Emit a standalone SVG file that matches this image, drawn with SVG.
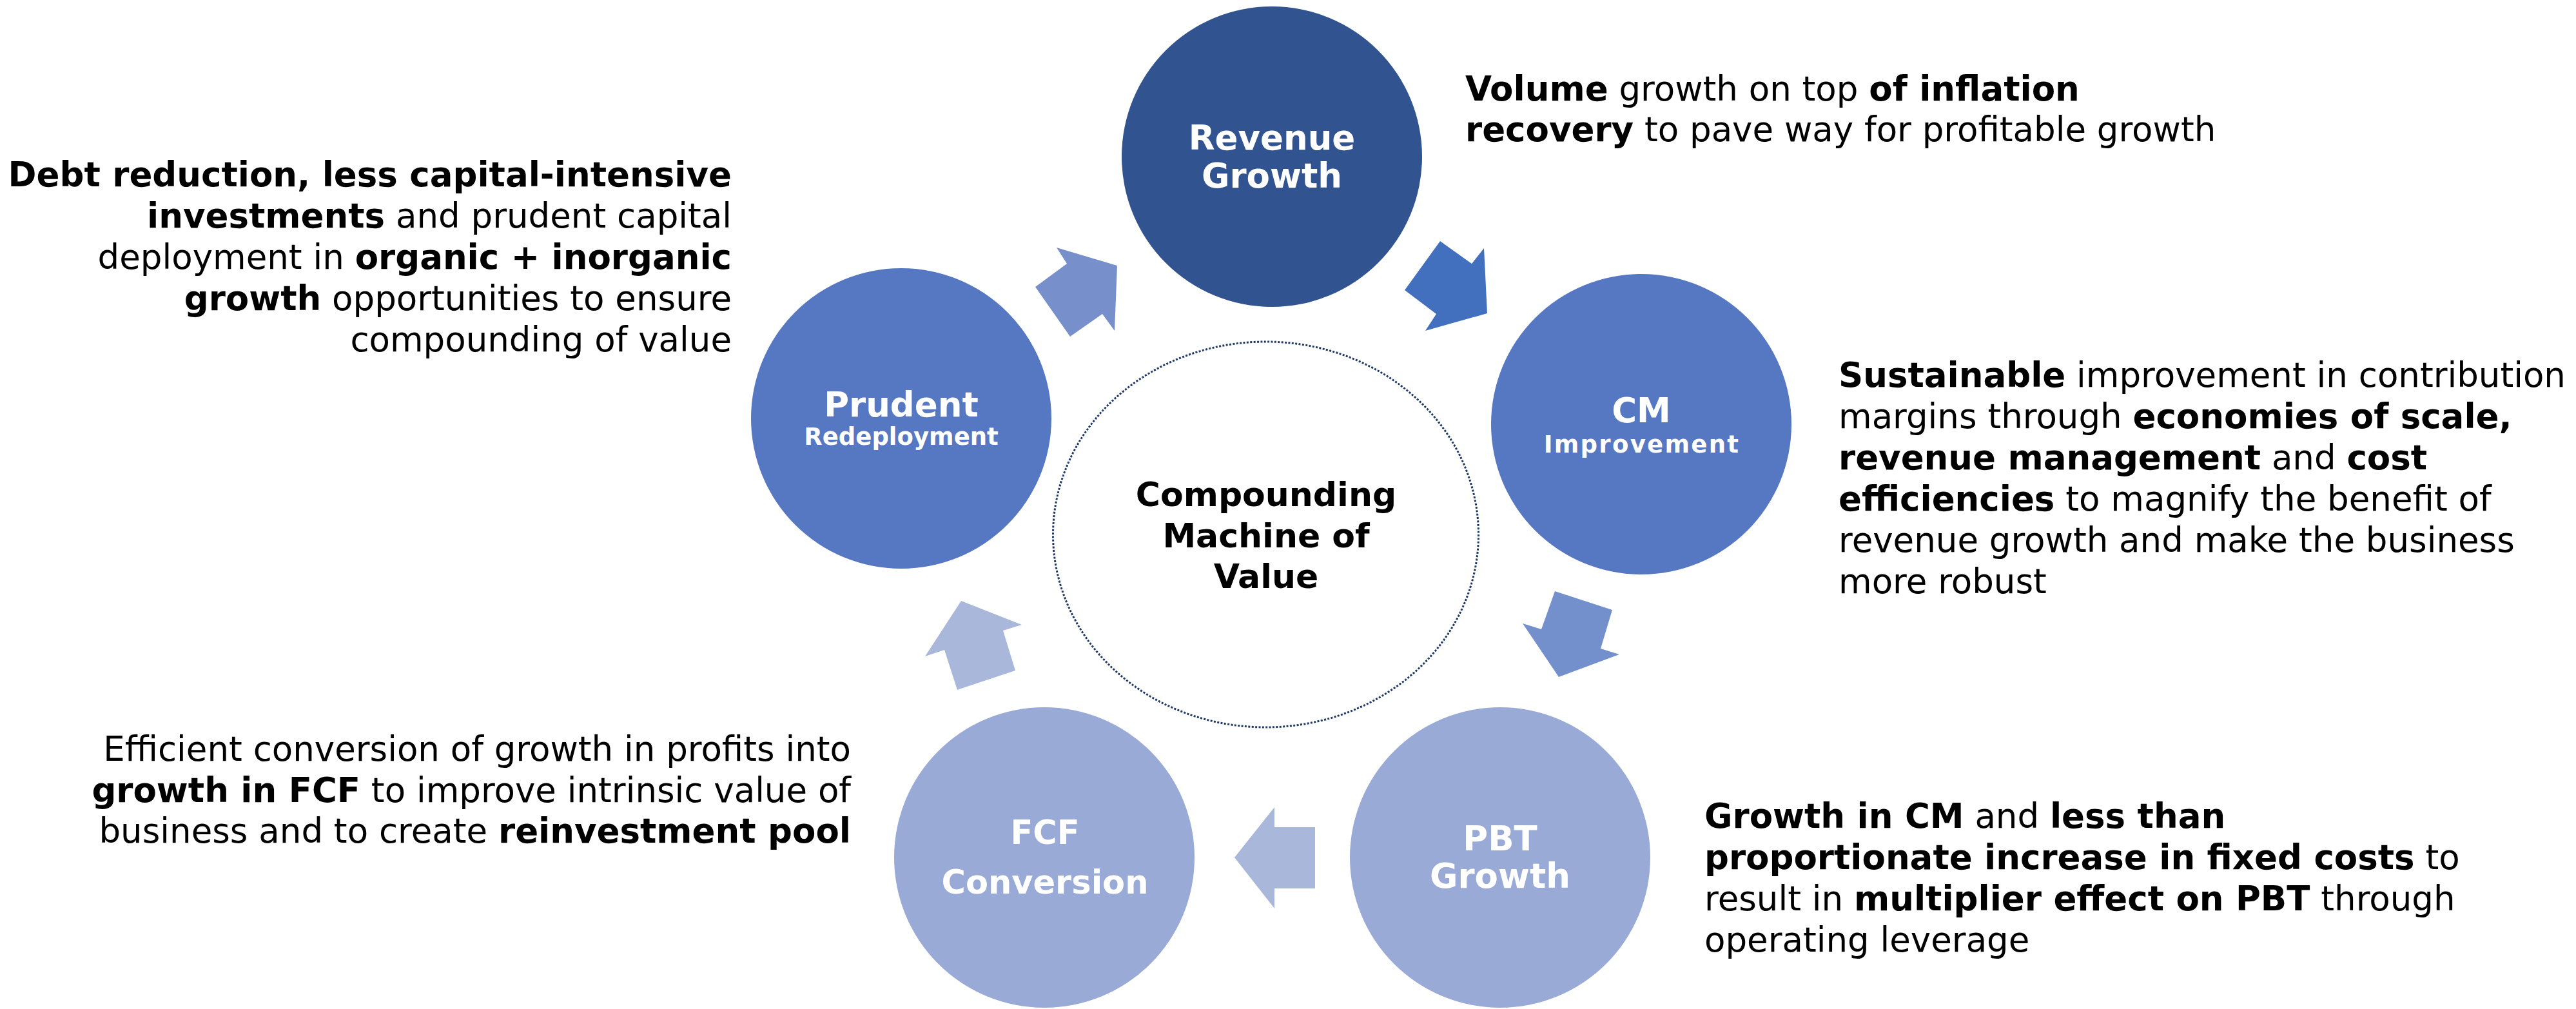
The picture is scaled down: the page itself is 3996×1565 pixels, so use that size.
<svg xmlns="http://www.w3.org/2000/svg" width="3996" height="1565" viewBox="0 0 3996 1565">
<style>
.lbl{font-family:"DejaVu Sans",Verdana,sans-serif;font-weight:bold;fill:#FFFFFF;text-anchor:middle}
.big{font-size:53px}
.mid{font-size:51px}
.sub{font-size:37px}
.ctr{font-family:"DejaVu Sans",Verdana,sans-serif;font-weight:bold;font-size:52px;fill:#000000;text-anchor:middle}
.desc{font-family:"DejaVu Sans",Verdana,sans-serif;font-size:53px;fill:#000000}
.b{font-weight:bold}
.end{text-anchor:end}
</style>
<rect x="0" y="0" width="3996" height="1565" fill="#FFFFFF"/>
<g id="connectors">
<polygon fill="#7790CB" points="1639,384 1733,412 1729,513 1710,487 1660,522 1606,445 1655,409"/>
<polygon fill="#4270BE" points="2234,374 2283,409 2302,385 2307,486 2211,513 2228,487 2179,450"/>
<polygon fill="#7490CC" points="2412,917 2501,946 2483,1006 2512,1015 2418,1050 2362,967 2391,976"/>
<polygon fill="#A9B7DB" points="1915,1330 1977,1252 1977,1283 2040,1283 2040,1378 1977,1378 1977,1409"/>
<polygon fill="#A9B7DB" points="1491,932 1585,969 1556,978 1575,1040 1485,1070 1465,1008 1435,1018"/>
</g>
<g id="center">
<ellipse cx="1963.5" cy="829" rx="330" ry="299" fill="#FFFFFF" stroke="#1F3864" stroke-width="3" stroke-dasharray="3 2.4"/>
<text class="ctr" x="1964" y="785">Compounding</text>
<text class="ctr" x="1964" y="849">Machine of</text>
<text class="ctr" x="1964" y="912">Value</text>
</g>
<g id="revenue-growth">
<circle cx="1973" cy="243" r="233" fill="#31538F"/>
<text class="lbl big" x="1973" y="232">Revenue</text>
<text class="lbl big" x="1973" y="291">Growth</text>
</g>
<g id="cm-improvement">
<circle cx="2546" cy="658" r="233" fill="#5677C1"/>
<text class="lbl big" x="2546" y="655">CM</text>
<text class="lbl sub" x="2547" y="702" letter-spacing="2.3">Improvement</text>
</g>
<g id="pbt-growth">
<circle cx="2327" cy="1330" r="233" fill="#99AAD6"/>
<text class="lbl big" x="2327" y="1319">PBT</text>
<text class="lbl big" x="2327" y="1377">Growth</text>
</g>
<g id="fcf-conversion">
<circle cx="1620" cy="1330" r="233" fill="#99AAD6"/>
<text class="lbl mid" x="1621" y="1309">FCF</text>
<text class="lbl mid" x="1621" y="1386">Conversion</text>
</g>
<g id="prudent-redeployment">
<circle cx="1398" cy="649" r="233" fill="#5677C1"/>
<text class="lbl big" x="1398" y="646">Prudent</text>
<text class="lbl sub" x="1398" y="690">Redeployment</text>
</g>
<g id="text-prudent">
<text class="desc end" x="1135" y="289"><tspan class="b">Debt reduction, less capital-intensive</tspan></text>
<text class="desc end" x="1135" y="353"><tspan class="b">investments</tspan> and prudent capital</text>
<text class="desc end" x="1135" y="417">deployment in <tspan class="b">organic + inorganic</tspan></text>
<text class="desc end" x="1135" y="481"><tspan class="b">growth</tspan> opportunities to ensure</text>
<text class="desc end" x="1135" y="545">compounding of value</text>
</g>
<g id="text-revenue">
<text class="desc" x="2273" y="156"><tspan class="b">Volume</tspan> growth on top <tspan class="b">of inflation</tspan></text>
<text class="desc" x="2273" y="219"><tspan class="b">recovery</tspan> to pave way for profitable growth</text>
</g>
<g id="text-cm">
<text class="desc" x="2852" y="600"><tspan class="b">Sustainable</tspan> improvement in contribution</text>
<text class="desc" x="2852" y="664">margins through <tspan class="b">economies of scale,</tspan></text>
<text class="desc" x="2852" y="728"><tspan class="b">revenue management</tspan> and <tspan class="b">cost</tspan></text>
<text class="desc" x="2852" y="792"><tspan class="b">efficiencies</tspan> to magnify the benefit of</text>
<text class="desc" x="2852" y="856">revenue growth and make the business</text>
<text class="desc" x="2852" y="920">more robust</text>
</g>
<g id="text-pbt">
<text class="desc" x="2644" y="1284"><tspan class="b">Growth in CM</tspan> and <tspan class="b">less than</tspan></text>
<text class="desc" x="2644" y="1348"><tspan class="b">proportionate increase in fixed costs</tspan> to</text>
<text class="desc" x="2644" y="1412">result in <tspan class="b">multiplier effect on PBT</tspan> through</text>
<text class="desc" x="2644" y="1476">operating leverage</text>
</g>
<g id="text-fcf">
<text class="desc end" x="1320" y="1180">Efficient conversion of growth in profits into</text>
<text class="desc end" x="1320" y="1244"><tspan class="b">growth in FCF</tspan> to improve intrinsic value of</text>
<text class="desc end" x="1320" y="1307">business and to create <tspan class="b">reinvestment pool</tspan></text>
</g>
</svg>
